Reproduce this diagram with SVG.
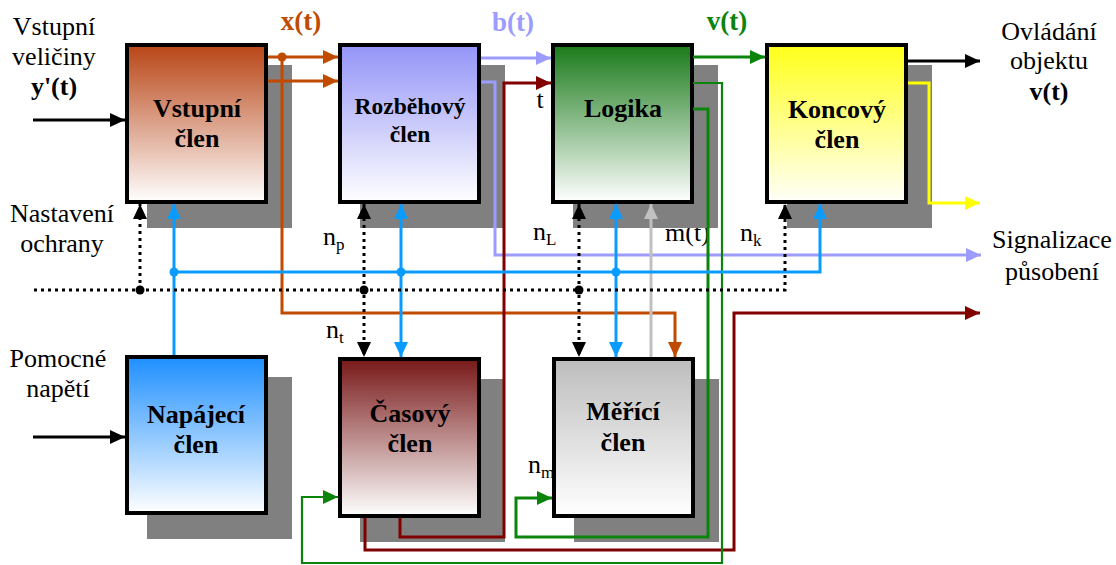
<svg xmlns="http://www.w3.org/2000/svg" width="1116" height="565" viewBox="0 0 1116 565">
<style>
text{font-family:"Liberation Serif","Times New Roman","DejaVu Serif","Noto Serif",serif;font-size:26px;fill:#000}
.c{text-anchor:middle}
.b{font-weight:bold}
.sh{fill:#808080}
.box{stroke:#000;stroke-width:4}
.ln{fill:none;stroke-width:3}
.k{stroke:#000}
.dot{stroke:#000;stroke-dasharray:3 4}
.or{stroke:#c04b00}
.lv{stroke:#9c9cff}
.dr{stroke:#800000}
.gr{stroke:#0a840a}
.bl{stroke:#0a9bff}
.ye{stroke:#ffff00}
.gy{stroke:#c0c0c0}
</style>
<defs>
<linearGradient id="gV" x1="0" y1="0" x2="0" y2="1"><stop offset="0" stop-color="#b84516"/><stop offset="1" stop-color="#ffffff"/></linearGradient>
<linearGradient id="gR" x1="0" y1="0" x2="0" y2="1"><stop offset="0" stop-color="#9494f8"/><stop offset="1" stop-color="#ffffff"/></linearGradient>
<linearGradient id="gL" x1="0" y1="0" x2="0" y2="1"><stop offset="0" stop-color="#1a7a1a"/><stop offset="1" stop-color="#ffffff"/></linearGradient>
<linearGradient id="gK" x1="0" y1="0" x2="0" y2="1"><stop offset="0" stop-color="#ffff1a"/><stop offset="1" stop-color="#fffffa"/></linearGradient>
<linearGradient id="gN" x1="0" y1="0" x2="0" y2="1"><stop offset="0" stop-color="#1e8fff"/><stop offset="1" stop-color="#ffffff"/></linearGradient>
<linearGradient id="gC" x1="0" y1="0" x2="0" y2="1"><stop offset="0" stop-color="#781818"/><stop offset="1" stop-color="#ffffff"/></linearGradient>
<linearGradient id="gM" x1="0" y1="0" x2="0" y2="1"><stop offset="0" stop-color="#bdbdbd"/><stop offset="1" stop-color="#ffffff"/></linearGradient>
<marker id="aK" viewBox="0 0 15 14" refX="15" refY="7" markerWidth="15" markerHeight="14" markerUnits="userSpaceOnUse" orient="auto-start-reverse"><path d="M0,0L15,7L0,14z" fill="#000"/></marker>
<marker id="aO" viewBox="0 0 15 14" refX="15" refY="7" markerWidth="15" markerHeight="14" markerUnits="userSpaceOnUse" orient="auto-start-reverse"><path d="M0,0L15,7L0,14z" fill="#c04b00"/></marker>
<marker id="aLv" viewBox="0 0 15 14" refX="15" refY="7" markerWidth="15" markerHeight="14" markerUnits="userSpaceOnUse" orient="auto-start-reverse"><path d="M0,0L15,7L0,14z" fill="#9c9cff"/></marker>
<marker id="aDr" viewBox="0 0 15 14" refX="15" refY="7" markerWidth="15" markerHeight="14" markerUnits="userSpaceOnUse" orient="auto-start-reverse"><path d="M0,0L15,7L0,14z" fill="#800000"/></marker>
<marker id="aG" viewBox="0 0 15 14" refX="15" refY="7" markerWidth="15" markerHeight="14" markerUnits="userSpaceOnUse" orient="auto-start-reverse"><path d="M0,0L15,7L0,14z" fill="#0a840a"/></marker>
<marker id="aB" viewBox="0 0 15 14" refX="15" refY="7" markerWidth="15" markerHeight="14" markerUnits="userSpaceOnUse" orient="auto-start-reverse"><path d="M0,0L15,7L0,14z" fill="#0a9bff"/></marker>
<marker id="aY" viewBox="0 0 15 14" refX="15" refY="7" markerWidth="15" markerHeight="14" markerUnits="userSpaceOnUse" orient="auto-start-reverse"><path d="M0,0L15,7L0,14z" fill="#ffff00"/></marker>
<marker id="aGy" viewBox="0 0 15 14" refX="15" refY="7" markerWidth="15" markerHeight="14" markerUnits="userSpaceOnUse" orient="auto-start-reverse"><path d="M0,0L15,7L0,14z" fill="#c0c0c0"/></marker>
</defs>
<rect width="1116" height="565" fill="#fff"/>

<g id="labels">
<text class="c" x="54" y="35">Vstupní</text>
<text class="c" x="54" y="65">veličiny</text>
<text class="c b" x="54" y="95">y'(t)</text>
<text class="c" x="62" y="222">Nastavení</text>
<text class="c" x="62" y="252">ochrany</text>
<text class="c" x="58" y="367">Pomocné</text>
<text class="c" x="58" y="397">napětí</text>
<text class="c" x="1049" y="40">Ovládání</text>
<text class="c" x="1049" y="69">objektu</text>
<text class="c b" x="1049" y="100">v(t)</text>
<text class="c" x="1052" y="248">Signalizace</text>
<text class="c" x="1052" y="280">působení</text>
<text class="c b" x="301" y="30" style="fill:#c04b00;font-size:27px">x(t)</text>
<text class="c b" x="513" y="31" style="fill:#9c9cff;font-size:27px">b(t)</text>
<text class="c b" x="727" y="30" style="fill:#0a840a;font-size:27px">v(t)</text>
<text class="c" x="540" y="108">t</text>
<text x="323" y="245">n<tspan dy="5" style="font-size:17px">p</tspan></text>
<text x="326" y="338">n<tspan dy="5" style="font-size:17px">t</tspan></text>
<text x="533" y="240">n<tspan dy="5" style="font-size:17px">L</tspan></text>
<text x="665" y="241">m(t)</text>
<text x="740" y="241">n<tspan dy="5" style="font-size:17px">k</tspan></text>
<text x="528" y="473">n<tspan dy="5" style="font-size:17px">m</tspan></text>
</g>

<g id="node-vstupni">
<rect class="sh" x="147" y="65" width="145" height="163"/>
<rect class="box" x="127" y="45" width="139" height="157" fill="url(#gV)"/>
<text class="c b" x="197" y="117">Vstupní</text>
<text class="c b" x="197" y="147">člen</text>
</g>
<g id="node-rozbehovy">
<rect class="sh" x="360" y="65" width="145" height="163"/>
<rect class="box" x="340" y="45" width="139" height="157" fill="url(#gR)"/>
<text class="c b" x="410" y="114" style="font-size:23.5px">Rozběhový</text>
<text class="c b" x="410" y="142" style="font-size:23.5px">člen</text>
</g>
<g id="node-logika">
<rect class="sh" x="573" y="65" width="145" height="163"/>
<rect class="box" x="553" y="45" width="139" height="157" fill="url(#gL)"/>
<text class="c b" x="623" y="117">Logika</text>
</g>
<g id="node-koncovy">
<rect class="sh" x="787" y="65" width="145" height="163"/>
<rect class="box" x="767" y="45" width="139" height="157" fill="url(#gK)"/>
<text class="c b" x="837" y="118">Koncový</text>
<text class="c b" x="837" y="148">člen</text>
</g>
<g id="node-napajeci">
<rect class="sh" x="147" y="377" width="145" height="162"/>
<rect class="box" x="127" y="357" width="139" height="156" fill="url(#gN)"/>
<text class="c b" x="196" y="423">Napájecí</text>
<text class="c b" x="196" y="453">člen</text>
</g>
<g id="node-casovy">
<rect class="sh" x="360" y="379" width="145" height="163"/>
<rect class="box" x="340" y="359" width="139" height="157" fill="url(#gC)"/>
<text class="c b" x="410" y="422">Časový</text>
<text class="c b" x="410" y="452">člen</text>
</g>
<g id="node-merici">
<rect class="sh" x="574" y="379" width="145" height="163"/>
<rect class="box" x="554" y="359" width="139" height="157" fill="url(#gM)"/>
<text class="c b" x="623" y="420">Měřící</text>
<text class="c b" x="623" y="451">člen</text>
</g>

<g id="connectors">
<path class="ln k" d="M33,120H125" marker-end="url(#aK)"/>
<path class="ln k" d="M33,437H125" marker-end="url(#aK)"/>
<path class="ln k" d="M908,61H980" marker-end="url(#aK)"/>
<path class="ln or" d="M268,57H338" marker-end="url(#aO)"/>
<path class="ln or" d="M268,81H338" marker-end="url(#aO)"/>
<path class="ln or" d="M282,57V313H675V357" marker-end="url(#aO)"/>
<path class="ln lv" d="M481,58H551" marker-end="url(#aLv)"/>
<path class="ln lv" d="M481,82H495V255H981" marker-end="url(#aLv)"/>
<path class="ln dr" d="M400,518V537H504V83H551" marker-end="url(#aDr)"/>
<path class="ln dr" d="M365,518V550H734V313H980" marker-end="url(#aDr)"/>
<path class="ln gr" d="M693,57H765" marker-end="url(#aG)"/>
<path class="ln gr" d="M693,109H708V537H516V498H552" marker-end="url(#aG)"/>
<path class="ln gr" style="stroke-width:2.2" d="M693,83H722V563H302V497H338" marker-end="url(#aG)"/>
<path class="ln ye" d="M908,83H929V203H980" marker-end="url(#aY)"/>
<path class="ln gy" d="M651,357V204" marker-end="url(#aGy)"/>
<path class="ln bl" d="M174,355V204" marker-end="url(#aB)"/>
<path class="ln bl" d="M174,272H820V204" marker-end="url(#aB)"/>
<path class="ln bl" d="M401,204V357" marker-start="url(#aB)" marker-end="url(#aB)"/>
<path class="ln bl" d="M616,204V357" marker-start="url(#aB)" marker-end="url(#aB)"/>
<path class="ln dot" d="M34,290H785V204" marker-end="url(#aK)"/>
<path class="ln dot" d="M140,290V204" marker-end="url(#aK)"/>
<path class="ln dot" d="M364,204V357" marker-start="url(#aK)" marker-end="url(#aK)"/>
<path class="ln dot" d="M579,204V357" marker-start="url(#aK)" marker-end="url(#aK)"/>
<circle cx="282" cy="57" r="4.5" fill="#c04b00"/>
<circle cx="174" cy="272" r="4.5" fill="#0a9bff"/>
<circle cx="401" cy="272" r="4.5" fill="#0a9bff"/>
<circle cx="616" cy="272" r="4.5" fill="#0a9bff"/>
<circle cx="140" cy="290" r="4.5" fill="#000"/>
<circle cx="364" cy="290" r="4.5" fill="#000"/>
<circle cx="579" cy="290" r="4.5" fill="#000"/>
</g>
</svg>
